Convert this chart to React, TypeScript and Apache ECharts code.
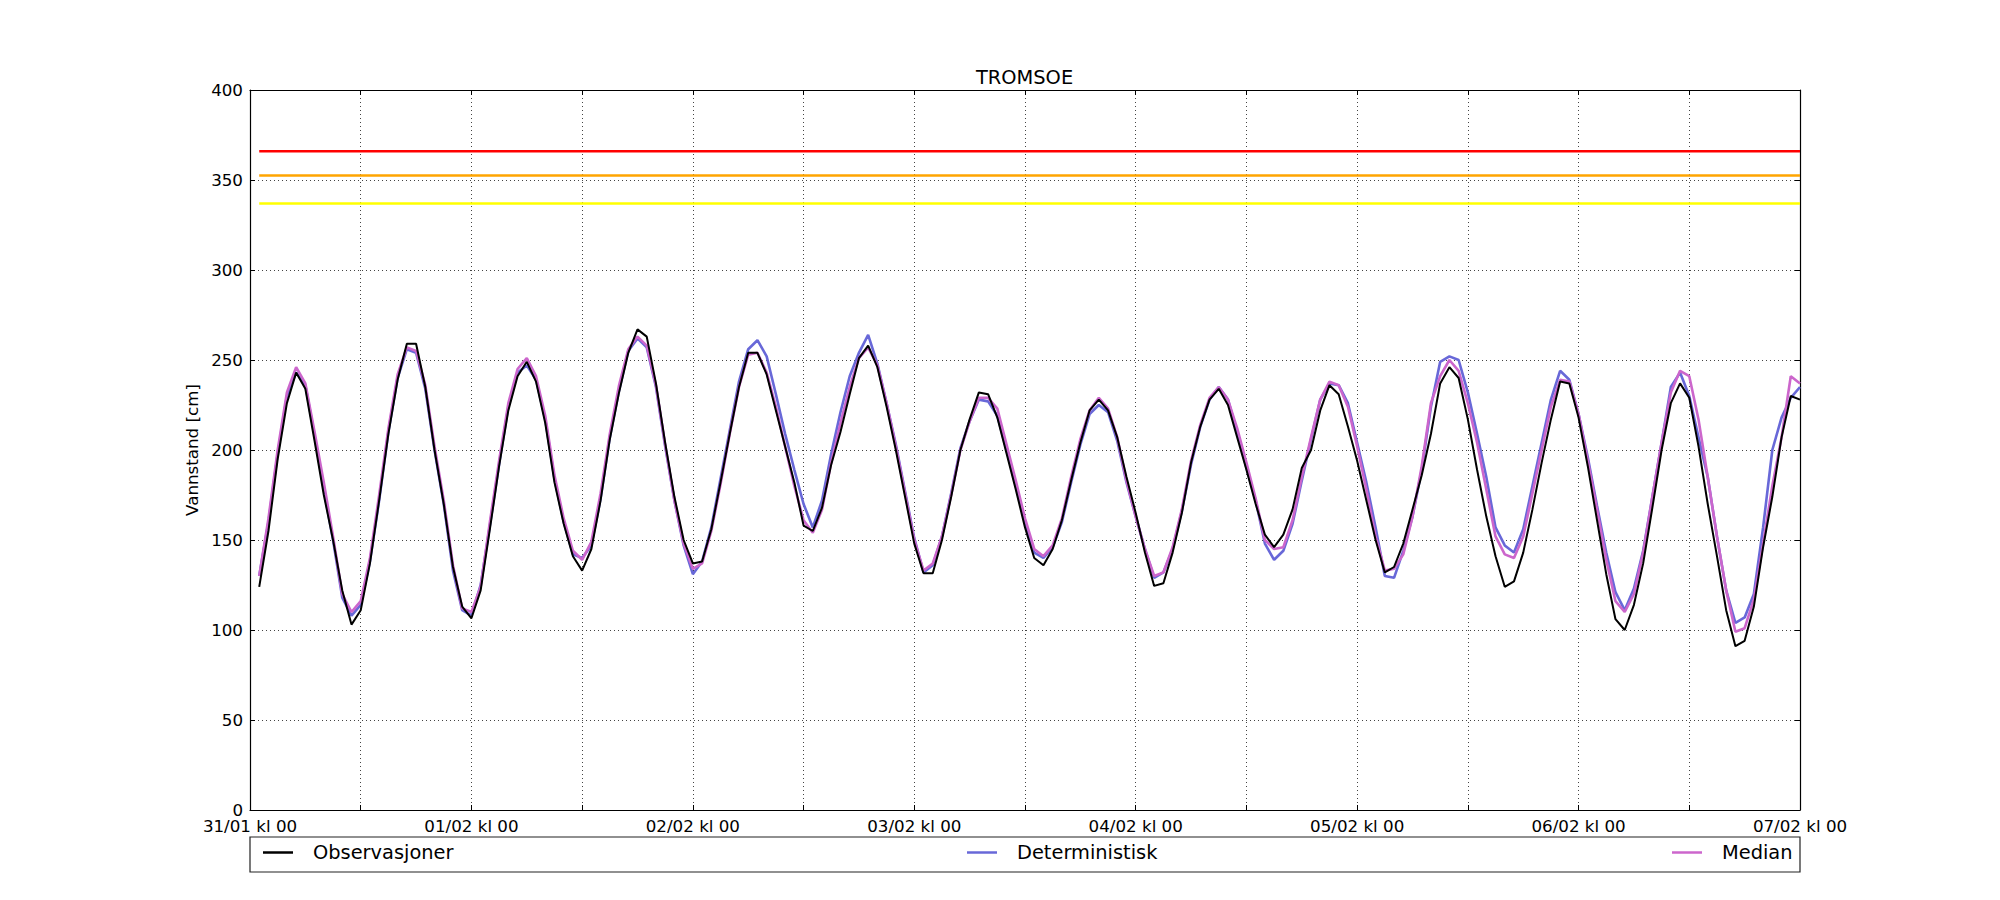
import React, { useEffect, useRef } from "react";
import * as echarts from "echarts";

// Hours since 31/01 kl 00 (hourly samples from 01:00 to 07/02 kl 00)
const HOURS: number[] = Array.from({ length: 168 }, (_, i) => i + 1);

const DAY_LABELS = ["31/01 kl 00", "01/02 kl 00", "02/02 kl 00", "03/02 kl 00", "04/02 kl 00", "05/02 kl 00", "06/02 kl 00", "07/02 kl 00"];

const OBSERVASJONER = [
  124, 155, 195, 226, 243, 234, 205, 175, 150, 122, 103, 111, 137, 172, 209, 239, 259, 259, 235, 200, 170, 135, 113, 106.5,
  122, 156, 191, 222, 241, 249, 238, 215, 182, 159, 141, 133, 145, 172, 206, 232, 254, 267, 263, 237, 204, 174, 150, 137,
  138, 156, 182, 209, 235, 254, 254, 242, 222, 202, 182, 158, 155, 168, 192, 210, 231, 251, 258, 246, 224, 200, 174, 148,
  131.5, 131.5, 150, 174, 200, 217, 232, 231, 218, 198, 178, 157, 140, 136, 145, 161, 183, 204, 222, 228, 222, 207, 185, 165,
  143, 124.5, 126, 143, 165, 193, 213, 228, 234, 225, 207, 189, 170, 153, 146, 153, 167, 190, 200, 222, 236, 231, 213, 194,
  172, 150, 132, 135, 148, 167, 186, 209, 237, 246, 240, 217, 189, 163, 141, 124, 127, 143, 167, 193, 217, 238, 237, 218,
  191, 161, 131, 106, 100, 114, 137, 168, 200, 226, 237, 229, 202, 170, 141, 111, 91, 94, 113, 146, 174, 207, 230, 228,
];

const DETERMINISTISK = [
  130, 160, 198, 230, 243, 236, 208, 178, 150, 118, 108, 114, 138, 172, 210, 240, 256, 254, 234, 200, 170, 133, 111, 108,
  125, 158, 192, 224, 243, 247, 239, 217, 184, 160, 142, 140, 147, 173, 207, 233, 255, 262, 257, 235, 202, 172, 147, 131,
  138, 157, 184, 211, 238, 256, 261, 252, 231, 209, 189, 170, 157, 172, 198, 221, 241, 254, 264, 248, 226, 203, 177, 151,
  132, 136, 152, 176, 201, 216, 228, 227, 219, 200, 180, 160, 143, 140, 146, 160, 182, 203, 220, 225, 221, 205, 182, 163,
  145, 129, 132, 145, 166, 192, 213, 228, 235, 228, 210, 190, 172, 148, 139, 144, 159, 183, 206, 228, 237, 236, 226, 204,
  182, 157, 130, 129, 144, 163, 189, 224, 249, 252, 250, 232, 209, 185, 157, 147, 143, 156, 180, 204, 228, 244, 239, 220,
  196, 169, 143, 121, 111, 123, 144, 174, 204, 235, 243, 230, 207, 185, 152, 122, 104, 107, 120, 157, 200, 218, 229, 235,
];

const MEDIAN = [
  130, 162, 200, 232, 246, 237, 210, 182, 152, 120, 110, 116, 140, 175, 212, 242, 257, 255, 236, 202, 172, 136, 112, 110,
  124, 160, 194, 226, 245, 251, 241, 219, 186, 162, 144, 139, 149, 176, 209, 236, 256, 263, 258, 236, 203, 172, 148, 134,
  137, 155, 181, 209, 235, 253, 254, 243, 224, 202, 180, 161, 154, 167, 193, 215, 235, 251, 257, 247, 226, 202, 176, 150,
  133, 137, 152, 175, 200, 216, 229, 229, 223, 203, 183, 162, 145, 141, 147, 162, 185, 206, 222, 229, 223, 207, 183, 163,
  145, 130, 132, 146, 167, 194, 214, 229, 235, 228, 212, 193, 173, 150, 145, 146, 161, 185, 207, 228, 238, 236, 224, 202,
  178, 152, 133, 134, 142, 163, 191, 226, 241, 250, 244, 226, 204, 178, 152, 142, 140, 152, 176, 200, 224, 239, 238, 220,
  194, 167, 139, 116, 110, 120, 143, 174, 204, 232, 244, 241, 217, 185, 152, 122, 99, 101, 117, 148, 180, 207, 241, 237,
];

// Warning levels [cm]
const LEVEL_RED = 366;
const LEVEL_ORANGE = 352.5;
const LEVEL_YELLOW = 337;

const FONT = "DejaVu Sans";

export default function App() {
  const ref = useRef<HTMLDivElement>(null);

  useEffect(() => {
    if (!ref.current) return;
    const chart = echarts.init(ref.current, null, { renderer: "svg" });
    const pair = (vals: number[]) => HOURS.map((h, i) => [h, vals[i]]);
    const first = HOURS[0];
    const last = HOURS[HOURS.length - 1];
    const level = (name: string, v: number, color: string) => ({
      name,
      type: "line",
      data: [[first, v], [last, v]],
      showSymbol: false,
      silent: true,
      lineStyle: { color, width: 2.5 },
      z: 2,
    });
    const gridLine = { show: true, lineStyle: { color: "#444", type: [1, 3], width: 1 } };
    const axisLine = { show: true, onZero: false, lineStyle: { color: "#000", width: 1.2 } };
    const tick = { show: true, inside: true, length: 5, lineStyle: { color: "#000" } };

    const legendItem = (name: string, left: number) => ({
      data: [{ name, icon: "rect" }],
      left,
      top: 843,
      padding: 0,
      itemWidth: 30,
      itemHeight: 2.5,
      selectedMode: false,
      textStyle: { fontFamily: FONT, fontSize: 19.4, color: "#000", padding: [0, 0, 0, 15] },
    });

    chart.setOption({
      animation: false,
      backgroundColor: "#fff",
      title: {
        text: "TROMSOE",
        left: 976,
        top: 68,
        padding: 0,
        textStyle: { fontFamily: FONT, fontSize: 19.4, fontWeight: "normal", color: "#000" },
      },
      grid: { left: 250, top: 90, width: 1550, height: 720, containLabel: false },
      legend: [
        legendItem("Observasjoner", 263),
        legendItem("Deterministisk", 967),
        legendItem("Median", 1672),
      ],
      graphic: [
        {
          type: "rect",
          shape: { x: 250, y: 837, width: 1550, height: 35 },
          style: { fill: "#fff", stroke: "#222", lineWidth: 1.2 },
          z: 0,
        },
      ],
      xAxis: [
        {
          type: "value",
          min: 0,
          max: 168,
          interval: 12,
          position: "bottom",
          axisLine,
          axisTick: tick,
          splitLine: gridLine,
          axisLabel: {
            show: true,
            margin: 7,
            fontFamily: FONT,
            fontSize: 16.7,
            color: "#000",
            showMinLabel: true,
            showMaxLabel: true,
            hideOverlap: false,
            formatter: (v: number) => (v % 24 === 0 ? DAY_LABELS[v / 24] : ""),
          },
        },
        {
          type: "value",
          min: 0,
          max: 168,
          interval: 12,
          position: "top",
          axisLine,
          axisTick: tick,
          splitLine: { show: false },
          axisLabel: { show: false },
        },
      ],
      yAxis: [
        {
          type: "value",
          min: 0,
          max: 400,
          interval: 50,
          position: "left",
          name: "Vannstand [cm]",
          nameLocation: "middle",
          nameRotate: 90,
          nameGap: 44,
          nameTextStyle: { fontFamily: FONT, fontSize: 16.7, color: "#000" },
          axisLine,
          axisTick: tick,
          splitLine: gridLine,
          axisLabel: { margin: 7, fontFamily: FONT, fontSize: 16.7, color: "#000" },
        },
        {
          type: "value",
          min: 0,
          max: 400,
          interval: 50,
          position: "right",
          axisLine,
          axisTick: tick,
          splitLine: { show: false },
          axisLabel: { show: false },
        },
      ],
      series: [
        level("Rød", LEVEL_RED, "#ff0000"),
        level("Oransje", LEVEL_ORANGE, "#ffa500"),
        level("Gul", LEVEL_YELLOW, "#ffff00"),
        {
          name: "Deterministisk",
          type: "line",
          data: pair(DETERMINISTISK),
          showSymbol: false,
          itemStyle: { color: "#6868d8" },
          lineStyle: { color: "#6868d8", width: 2.6 },
          z: 3,
        },
        {
          name: "Median",
          type: "line",
          data: pair(MEDIAN),
          showSymbol: false,
          itemStyle: { color: "#cc66cc" },
          lineStyle: { color: "#cc66cc", width: 2.6 },
          z: 4,
        },
        {
          name: "Observasjoner",
          type: "line",
          data: pair(OBSERVASJONER),
          showSymbol: false,
          itemStyle: { color: "#000" },
          lineStyle: { color: "#000", width: 2 },
          z: 5,
        },
      ],
    });
    return () => chart.dispose();
  }, []);

  return (
    <div
      ref={ref}
      style={{ position: "absolute", left: 0, top: 0, width: 2000, height: 900, background: "#fff" }}
    />
  );
}
